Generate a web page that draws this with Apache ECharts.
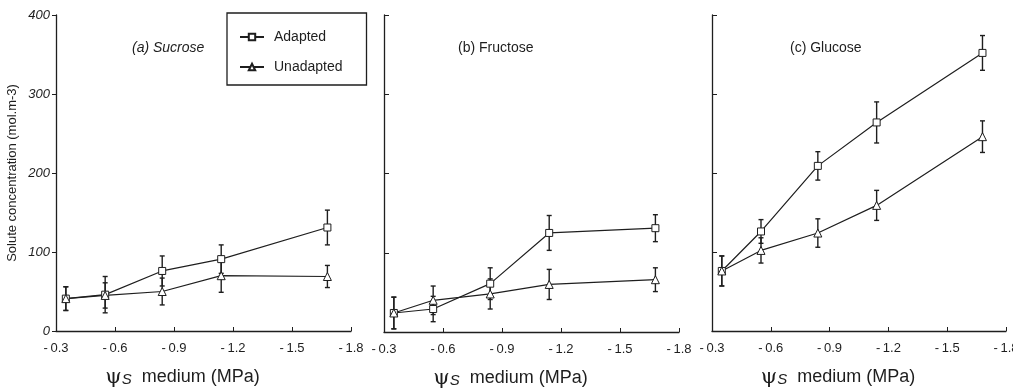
<!DOCTYPE html>
<html>
<head>
<meta charset="utf-8">
<script src="https://cdn.jsdelivr.net/npm/echarts@6/dist/echarts.min.js"></script>
<style>
  html, body { margin: 0; padding: 0; background: #fff; }
  #chart { width: 1013px; height: 388px; }
</style>
</head>
<body>
<div id="chart"></div>
<script>
// water potential of the medium (MPa), shared by all three panels
const psiValues = [-0.35, -0.55, -0.84, -1.14, -1.68];

const panelTitles = ["(a) Sucrose", "(b) Fructose", "(c) Glucose"];

const sucroseAdapted = [41, 46, 76, 91, 131];
const sucroseAdaptedErr = [15, 23, 19, 18, 22];
const sucroseUnadapted = [41, 45, 50, 70, 69];
const sucroseUnadaptedErr = [15, 16, 17, 21, 14];

const fructoseAdapted = [24, 29, 61, 125, 131];
const fructoseAdaptedErr = [20, 16, 20, 22, 17];
const fructoseUnadapted = [24, 40, 48, 60, 66];
const fructoseUnadaptedErr = [20, 18, 19, 19, 15];

const glucoseAdapted = [76, 126, 209, 264, 352];
const glucoseAdaptedErr = [19, 15, 18, 26, 22];
const glucoseUnadapted = [76, 102, 124, 159, 246];
const glucoseUnadaptedErr = [19, 16, 18, 19, 20];

const panels = [
  { adapted: sucroseAdapted, adaptedErr: sucroseAdaptedErr, unadapted: sucroseUnadapted, unadaptedErr: sucroseUnadaptedErr },
  { adapted: fructoseAdapted, adaptedErr: fructoseAdaptedErr, unadapted: fructoseUnadapted, unadaptedErr: fructoseUnadaptedErr },
  { adapted: glucoseAdapted, adaptedErr: glucoseAdaptedErr, unadapted: glucoseUnadapted, unadaptedErr: glucoseUnadaptedErr },
];

const ink = "#1e1e1e";
const font = "'Liberation Sans', Arial, sans-serif";

const grids = [
  { left: 56, width: 295, top: 15, bottom: 57 },
  { left: 384, width: 295, top: 15, bottom: 56 },
  { left: 712, width: 294, top: 15, bottom: 57 },
].map((g) => ({ ...g, containLabel: false, outerBoundsMode: "none" }));

function pairs(values) {
  return values.map((v, i) => [psiValues[i], v]);
}

function errorRows(values, errs) {
  return values.map((v, i) => [psiValues[i], v - errs[i], v + errs[i]]);
}

function renderErrorBar(params, api) {
  const x = api.value(0);
  const top = api.coord([x, api.value(2)]);
  const bottom = api.coord([x, api.value(1)]);
  const cap = 2.5;
  const style = { stroke: ink, lineWidth: 1.4 };
  return {
    type: "group",
    children: [
      { type: "line", shape: { x1: top[0], y1: top[1], x2: bottom[0], y2: bottom[1] }, style },
      { type: "line", shape: { x1: top[0] - cap, y1: top[1], x2: top[0] + cap, y2: top[1] }, style },
      { type: "line", shape: { x1: bottom[0] - cap, y1: bottom[1], x2: bottom[0] + cap, y2: bottom[1] }, style },
    ],
  };
}

const xAxes = grids.map((g, i) => ({
  type: "value",
  gridIndex: i,
  inverse: true,
  min: -1.8,
  max: -0.3,
  interval: 0.3,
  axisLine: { lineStyle: { color: ink, width: 1.3 } },
  axisTick: { inside: true, length: 4, lineStyle: { color: ink } },
  axisLabel: {
    color: ink,
    fontSize: 13,
    fontFamily: font,
    margin: 11,
    showMinLabel: true,
    showMaxLabel: true,
    formatter: (v) => v.toFixed(1).replace("-", "-\u2009"),
  },
  splitLine: { show: false },
  name: "{psi|ψ}{s|S}  medium (MPa)",
  nameLocation: "middle",
  nameGap: 36,
  nameTextStyle: {
    color: ink,
    fontSize: 18,
    fontFamily: font,
    padding: [0, 42, 0, 0],
    rich: {
      psi: { fontSize: 21, color: ink, fontFamily: "'DejaVu Serif', serif" },
      s: { fontSize: 15, color: ink, fontStyle: "italic", fontFamily: font, padding: [4, 0, 0, 0] },
    },
  },
}));

const yAxes = grids.map((g, i) => ({
  type: "value",
  gridIndex: i,
  min: 0,
  max: 400,
  interval: 100,
  axisLine: { show: true, lineStyle: { color: ink, width: 1.3 } },
  axisTick: { show: true, inside: i > 0, length: i > 0 ? 5 : 4, lineStyle: { color: ink } },
  axisLabel: i === 0
    ? { color: ink, fontSize: 13, fontFamily: font, fontStyle: "italic", margin: 6 }
    : { show: false },
  splitLine: { show: false },
  name: i === 0 ? "Solute concentration (mol.m-3)" : "",
  nameLocation: "middle",
  nameGap: 37,
  nameTextStyle: { color: ink, fontSize: 13, fontFamily: font },
}));

const series = [];
panels.forEach((p, i) => {
  series.push({
    name: "Adapted",
    type: "line",
    xAxisIndex: i,
    yAxisIndex: i,
    data: pairs(p.adapted),
    symbol: "rect",
    symbolSize: 7,
    lineStyle: { color: ink, width: 1.2 },
    itemStyle: { color: "#fff", borderColor: ink, borderWidth: 1 },
    z: 3,
  });
  series.push({
    name: "Unadapted",
    type: "line",
    xAxisIndex: i,
    yAxisIndex: i,
    data: pairs(p.unadapted),
    symbol: "triangle",
    symbolSize: 8,
    lineStyle: { color: ink, width: 1.2 },
    itemStyle: { color: "#fff", borderColor: ink, borderWidth: 1 },
    z: 3,
  });
  series.push({
    name: "adaptedErr" + i,
    type: "custom",
    xAxisIndex: i,
    yAxisIndex: i,
    data: errorRows(p.adapted, p.adaptedErr),
    encode: { x: 0, y: [1, 2] },
    renderItem: renderErrorBar,
    z: 2,
  });
  series.push({
    name: "unadaptedErr" + i,
    type: "custom",
    xAxisIndex: i,
    yAxisIndex: i,
    data: errorRows(p.unadapted, p.unadaptedErr),
    encode: { x: 0, y: [1, 2] },
    renderItem: renderErrorBar,
    z: 2,
  });
});

const titleLefts = [132, 458, 790];

const chart = echarts.init(document.getElementById("chart"), null, { renderer: "canvas" });
chart.setOption({
  backgroundColor: "#fff",
  animation: false,
  title: panelTitles.map((t, i) => ({
    text: t,
    left: titleLefts[i],
    top: 41,
    padding: 0,
    textStyle: {
      color: ink,
      fontSize: 14,
      fontWeight: "normal",
      fontFamily: font,
      fontStyle: i === 0 ? "italic" : "normal",
    },
  })),
  legend: {
    data: ["Adapted", "Unadapted"],
    orient: "vertical",
    left: 227,
    top: 13,
    width: 139,
    padding: [17, 24, 11, 12],
    itemGap: 16,
    itemWidth: 24,
    itemHeight: 8,
    borderColor: ink,
    borderWidth: 1.3,
    borderRadius: 0,
    selectedMode: false,
    textStyle: { color: ink, fontSize: 14, fontFamily: font, padding: [0, 0, 0, 5] },
  },
  grid: grids,
  xAxis: xAxes,
  yAxis: yAxes,
  series,
});
</script>
</body>
</html>
